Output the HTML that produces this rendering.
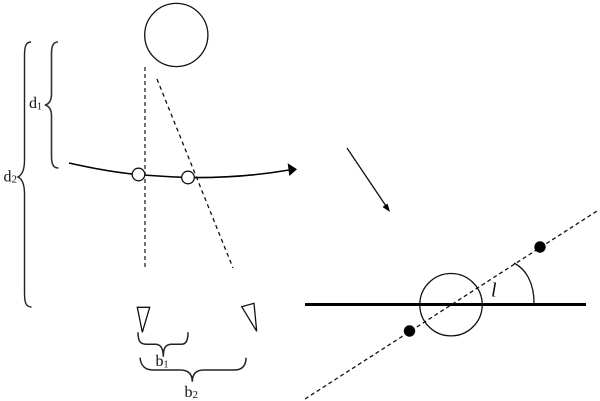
<!DOCTYPE html>
<html>
<head>
<meta charset="utf-8">
<style>
html,body{margin:0;padding:0;background:#fff;}
svg{display:block;}
text{font-family:"Liberation Serif",serif;fill:#111;}
</style>
</head>
<body>
<svg width="600" height="401" viewBox="0 0 600 401" xmlns="http://www.w3.org/2000/svg">
<rect width="600" height="401" fill="#fff"/>
<g fill="none" stroke="#111" stroke-width="1.3">
  <circle cx="176.3" cy="35" r="31.6"/>
  <line x1="145" y1="67" x2="145" y2="270" stroke="#444" stroke-width="1.5" stroke-dasharray="4 3"/>
  <line x1="157" y1="79" x2="233" y2="268" stroke-dasharray="4 3.5"/>
  <path d="M69 163 C100 170 120 173 138 174.5 C160 176.5 175 177 188 177.5 C225 178 260 175 289 170" stroke="#000" stroke-width="1.6"/>
  <path d="M58 42 C53 42 51.5 46 51.5 54 L51.5 94 C51.5 101 49 104 45 105 C49 106 51.5 109 51.5 116 L51.5 156 C51.5 164 53 168 58.5 168" stroke="#333" stroke-width="1.6"/>
  <path d="M31 42 C26 42 24.5 46 24.5 56 L24.5 160 C24.5 170 22 175 18 177 C22 179 24.5 184 24.5 194 L24.5 293 C24.5 303 26 307 31.5 307" stroke="#222" stroke-width="1.4"/>
  <path d="M138 332.3 C138 341 140 344.3 147 344.3 L155 344.3 C160 344.3 163.3 347 163.3 356.7 C163.3 347 166 344.3 172 344.3 L181 344.3 C186 344.3 188 341 188 332.3" stroke="#222" stroke-width="1.5"/>
  <path d="M140 357.7 C141 366 145 370 153 370 L180 370 C187 370 192.3 373 192.3 381.7 C192.3 373 197 370 204 370 L234 370 C242 370 246 366 246 357.7" stroke="#222" stroke-width="1.5"/>
  <polygon points="137.3,307.3 149.7,307.3 142.3,332.3"/>
  <polygon points="241.7,306.7 254,303.3 256.7,331.3"/>
  <line x1="347" y1="148" x2="387" y2="207.5"/>
  <line x1="305" y1="304.5" x2="586" y2="304.5" stroke="#000" stroke-width="3"/>
  <circle cx="451" cy="304.7" r="31.2"/>
  <line x1="305" y1="399" x2="597" y2="211" stroke-dasharray="4 3"/>
  <path d="M514 263 C526 269 534 283 534 303" stroke-width="1.3"/>
</g>
<circle cx="138.5" cy="174.5" r="6.3" fill="#fff" stroke="#111" stroke-width="1.3"/>
<circle cx="188" cy="177.5" r="6.3" fill="#fff" stroke="#111" stroke-width="1.3"/>
<polygon points="297,169.3 287.7,163.3 289.3,176" fill="#000"/>
<polygon points="390,212 382.5,207 387.5,203.5" fill="#000"/>
<circle cx="540" cy="247" r="5.7" fill="#000"/>
<circle cx="409.5" cy="331" r="5.7" fill="#000"/>
<text x="29" y="108" font-size="16">d<tspan font-size="10" dy="1.5">1</tspan></text>
<text x="3.5" y="181.5" font-size="16">d<tspan font-size="11" dy="1">2</tspan></text>
<text x="155.5" y="366" font-size="16">b<tspan font-size="10" dy="1.5">1</tspan></text>
<text x="184.5" y="397" font-size="16">b<tspan font-size="11" dy="1">2</tspan></text>
<text x="491" y="296.5" font-size="20" font-style="italic">l</text>
</svg>
</body>
</html>
